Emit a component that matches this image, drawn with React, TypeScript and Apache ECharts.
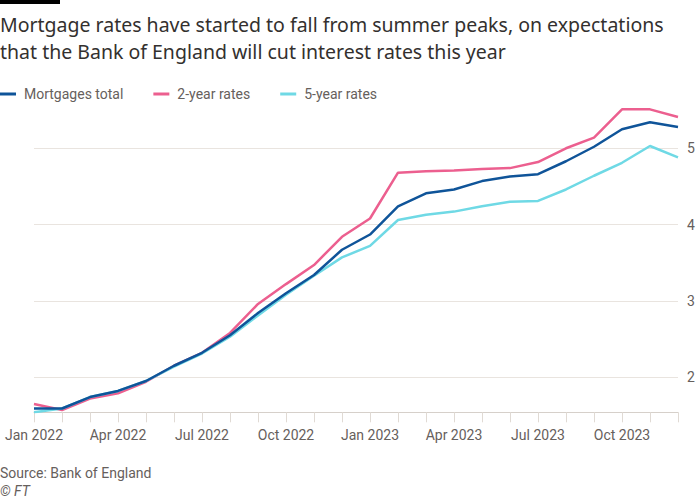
import React, { useEffect, useRef } from "react";
import * as echarts from "echarts";

const months = [
  "Jan 2022", "Feb 2022", "Mar 2022", "Apr 2022", "May 2022", "Jun 2022",
  "Jul 2022", "Aug 2022", "Sep 2022", "Oct 2022", "Nov 2022", "Dec 2022",
  "Jan 2023", "Feb 2023", "Mar 2023", "Apr 2023", "May 2023", "Jun 2023",
  "Jul 2023", "Aug 2023", "Sep 2023", "Oct 2023", "Nov 2023", "Dec 2023",
];
const mortgagesTotal = [1.59, 1.59, 1.74, 1.82, 1.95, 2.15, 2.32, 2.55, 2.84, 3.10, 3.34, 3.67, 3.87, 4.24, 4.41, 4.46, 4.57, 4.63, 4.66, 4.83, 5.02, 5.25, 5.34, 5.28];
const twoYearRates = [1.65, 1.57, 1.72, 1.79, 1.94, 2.15, 2.32, 2.58, 2.96, 3.22, 3.47, 3.84, 4.08, 4.68, 4.70, 4.71, 4.73, 4.74, 4.82, 5.00, 5.14, 5.51, 5.51, 5.41];
const fiveYearRates = [1.54, 1.59, 1.74, 1.82, 1.95, 2.14, 2.31, 2.53, 2.81, 3.08, 3.33, 3.57, 3.72, 4.06, 4.13, 4.17, 4.24, 4.30, 4.31, 4.46, 4.64, 4.81, 5.03, 4.88];
const yMin = 1.54;
const yMax = 5.52;

const titleLines = [
  "Mortgage rates have started to fall from summer peaks, on expectations",
  "that the Bank of England will cut interest rates this year",
];
const sourceText = "Source: Bank of England";
const creditText = "© FT";

const FONT = "Roboto, 'Noto Sans', sans-serif";
const TITLE_FONT = "'Noto Sans', Roboto, sans-serif";
const TEXT_GREY = "#66605c";
const GRID = "#e9e4df";

export default function App() {
  const ref = useRef<HTMLDivElement>(null);
  useEffect(() => {
    if (!ref.current) return;
    const chart = echarts.init(ref.current, undefined, { renderer: "svg" });
    chart.setOption({
      animation: false,
      backgroundColor: "#ffffff",
      textStyle: { fontFamily: FONT },
      graphic: [
        { type: "rect", left: 0, top: 0, shape: { width: 60, height: 4 }, style: { fill: "#000000" } },
        { type: "text", x: 0, y: 24.5, style: { text: titleLines[0], font: `19.5px ${TITLE_FONT}`, fill: "#33302e", verticalAlign: "middle" } },
        { type: "text", x: 0, y: 51, style: { text: titleLines[1], font: `19.5px ${TITLE_FONT}`, fill: "#33302e", verticalAlign: "middle" } },
        { type: "text", left: 0, top: 466, style: { text: sourceText, font: `14px ${FONT}`, fill: TEXT_GREY } },
        { type: "text", left: 0, top: 484, style: { text: creditText, font: `italic 14px ${FONT}`, fill: TEXT_GREY } },
      ],
      legend: {
        left: 0,
        top: 87,
        padding: 0,
        icon: "rect",
        itemWidth: 16,
        itemHeight: 3,
        itemGap: 30,
        data: ["Mortgages total", "2-year rates", "5-year rates"],
        textStyle: { fontSize: 14, color: TEXT_GREY, fontFamily: FONT, padding: [0, 0, 0, 3] },
      },
      grid: { left: 34, right: 22, top: 108.6, bottom: 87.7, containLabel: false },
      xAxis: {
        type: "category",
        data: months,
        boundaryGap: false,
        axisLine: { show: true, lineStyle: { color: "#d6d0ca", width: 1 } },
        axisTick: { show: true, interval: 0, length: 10, lineStyle: { color: "#e0dad4" } },
        axisLabel: { interval: 2, margin: 16, fontSize: 14, color: TEXT_GREY, fontFamily: FONT },
        splitLine: { show: false },
      },
      yAxis: {
        type: "value",
        position: "right",
        min: yMin,
        max: yMax,
        axisLine: { show: false },
        axisTick: { show: false },
        axisLabel: { showMinLabel: false, showMaxLabel: false, margin: 9, fontSize: 14, color: TEXT_GREY, fontFamily: FONT },
        splitLine: { show: true, lineStyle: { color: [GRID, GRID, GRID, GRID, GRID, "rgba(0,0,0,0)"], width: 1 } },
      },
      series: [
        { name: "2-year rates", type: "line", data: twoYearRates, symbol: "none", color: "#ec5f8f", lineStyle: { width: 2.5, color: "#ec5f8f" } },
        { name: "5-year rates", type: "line", data: fiveYearRates, symbol: "none", color: "#6fd9e5", lineStyle: { width: 2.5, color: "#6fd9e5" } },
        { name: "Mortgages total", type: "line", data: mortgagesTotal, symbol: "none", color: "#0f5499", lineStyle: { width: 2.5, color: "#0f5499" } },
      ],
    });
    return () => chart.dispose();
  }, []);
  return <div ref={ref} style={{ position: "fixed", left: 0, top: 0, width: 700, height: 500, background: "#fff" }} />;
}
